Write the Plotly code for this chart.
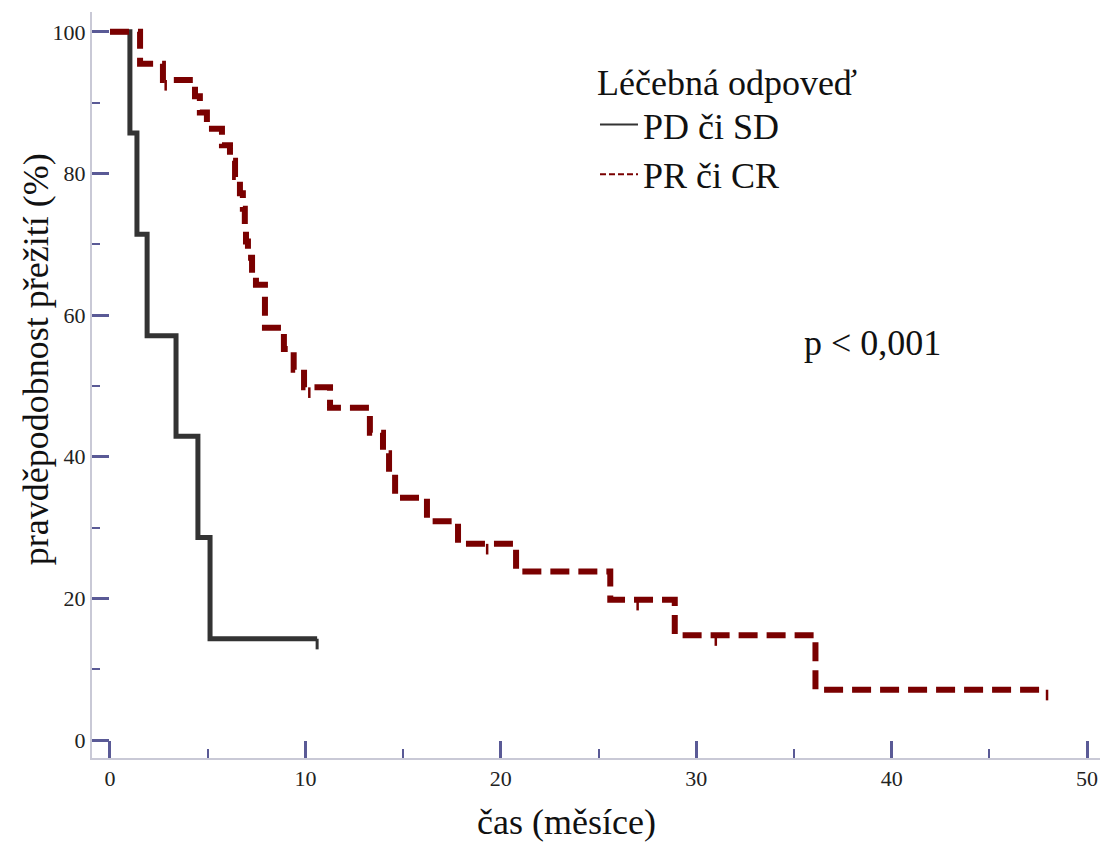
import numpy as np
import plotly.graph_objects as go

# ---- data ----
pd_times = [1.02, 1.38, 1.9, 3.38, 4.5, 5.12]
pd_surv = [85.7, 71.4, 57.1, 42.9, 28.6, 14.3]
pd_end = 10.6
pd_censor = [10.6]

pr_times = [1.54, 2.71, 4.35, 4.6, 4.96, 5.73, 6.14, 6.4, 6.65, 6.8, 6.9, 6.96,
            7.06, 7.27, 7.47, 7.93, 8.9, 9.4, 9.93, 11.26, 13.3, 13.97, 14.28,
            14.59, 16.22, 17.81, 20.78, 25.6, 28.9, 36.1]
pr_surv = [95.5, 93.2, 90.9, 88.6, 86.3, 84.0, 81.8, 79.5, 77.2, 75.0, 72.7, 70.4,
           68.1, 65.9, 64.3, 58.2, 55.2, 52.3, 49.8, 46.9, 43.4, 40.5, 37.5,
           34.2, 30.9, 27.7, 23.8, 19.8, 14.8, 7.1]
pr_end = 47.95
pr_censor = [2.85, 10.2, 19.3, 27.0, 31.0, 47.95]

x_ticks = [0, 10, 20, 30, 40, 50]
y_ticks = [0, 20, 40, 60, 80, 100]

FONT = "Liberation Serif"
PD_COLOR = "#333333"
PR_COLOR = "#7a0000"
TICK_COLOR = "#5a5a96"
AXIS_COLOR = "#c9c9d6"


def step_xy(times, surv, end):
    x = [0.0] + list(times) + [end]
    y = [100.0] + list(surv) + [surv[-1]]
    return x, y


def surv_at(times, surv, t):
    idx = np.searchsorted(np.array(times), t, side="right") - 1
    return 100.0 if idx < 0 else surv[idx]


def censor_xy(times, surv, cens, drop=1.5):
    xs, ys = [], []
    for c in cens:
        s = surv_at(times, surv, c)
        xs += [c, c, None]
        ys += [s, s - drop, None]
    return xs, ys


fig = go.Figure()

px_, py_ = step_xy(pd_times, pd_surv, pd_end)
fig.add_trace(go.Scatter(x=px_, y=py_, mode="lines", line_shape="hv",
                         line=dict(color=PD_COLOR, width=5), showlegend=False))
cx, cy = censor_xy(pd_times, pd_surv, pd_censor)
fig.add_trace(go.Scatter(x=cx, y=cy, mode="lines",
                         line=dict(color=PD_COLOR, width=3), showlegend=False))

rx, ry = step_xy(pr_times, pr_surv, pr_end)
fig.add_trace(go.Scatter(x=rx, y=ry, mode="lines", line_shape="hv",
                         line=dict(color=PR_COLOR, width=6, dash="19px,9px"),
                         showlegend=False))
cx, cy = censor_xy(pr_times, pr_surv, pr_censor)
fig.add_trace(go.Scatter(x=cx, y=cy, mode="lines",
                         line=dict(color=PR_COLOR, width=2.5), showlegend=False))

# legend entries
fig.add_trace(go.Scatter(x=[None], y=[None], mode="lines", name="PD či SD",
                         line=dict(color=PD_COLOR, width=2)))
fig.add_trace(go.Scatter(x=[None], y=[None], mode="lines", name="PR či CR",
                         line=dict(color=PR_COLOR, width=2, dash="6px,3px")))

fig.add_annotation(x=39.0, y=56.1, xref="x", yref="y", text="p < 0,001",
                   showarrow=False, font=dict(family=FONT, size=36, color="#111"))

# axis titles
fig.add_annotation(x=0.471, y=-0.086, xref="paper", yref="paper",
                   text="čas (měsíce)", showarrow=False,
                   xanchor="center", yanchor="middle",
                   font=dict(family=FONT, size=36, color="#111"))
fig.add_annotation(x=-0.056, y=0.534, xref="paper", yref="paper",
                   text="pravděpodobnost přežití (%)", showarrow=False,
                   textangle=-90, xanchor="center", yanchor="middle",
                   font=dict(family=FONT, size=36, color="#111"))

fig.update_layout(
    width=1106, height=843,
    margin=dict(l=92, r=6, t=12, b=85),
    paper_bgcolor="white", plot_bgcolor="white",
    font=dict(family=FONT, color="#222"),
    legend=dict(x=0.499, y=0.952, xanchor="left", yanchor="top",
                bgcolor="rgba(0,0,0,0)",
                title=dict(text="Léčebná odpoveď", font=dict(family=FONT, size=36, color="#111")),
                font=dict(family=FONT, size=36, color="#111"),
                itemwidth=38, tracegroupgap=0),
)

fig.update_xaxes(
    range=[-0.92, 50.66], tickvals=x_ticks, ticktext=[str(v) for v in x_ticks],
    showline=True, linecolor=AXIS_COLOR, linewidth=2, mirror=False,
    ticks="inside", ticklen=17, tickwidth=3, tickcolor=TICK_COLOR,
    minor=dict(ticks="inside", ticklen=9, tickwidth=2, tickcolor=TICK_COLOR,
               tickvals=[5, 15, 25, 35, 45]),
    showgrid=False, zeroline=False,
    tickfont=dict(family=FONT, size=22, color="#222"),
)
fig.update_yaxes(
    range=[-2.54, 102.8], tickvals=y_ticks, ticktext=[str(v) for v in y_ticks],
    showline=True, linecolor=AXIS_COLOR, linewidth=2, mirror=False,
    ticks="inside", ticklen=17, tickwidth=3, tickcolor=TICK_COLOR,
    minor=dict(ticks="inside", ticklen=8, tickwidth=2, tickcolor=TICK_COLOR,
               tickvals=[10, 30, 50, 70, 90]),
    showgrid=False, zeroline=False,
    tickfont=dict(family=FONT, size=22, color="#222"),
)

fig.write_html("out.html")
